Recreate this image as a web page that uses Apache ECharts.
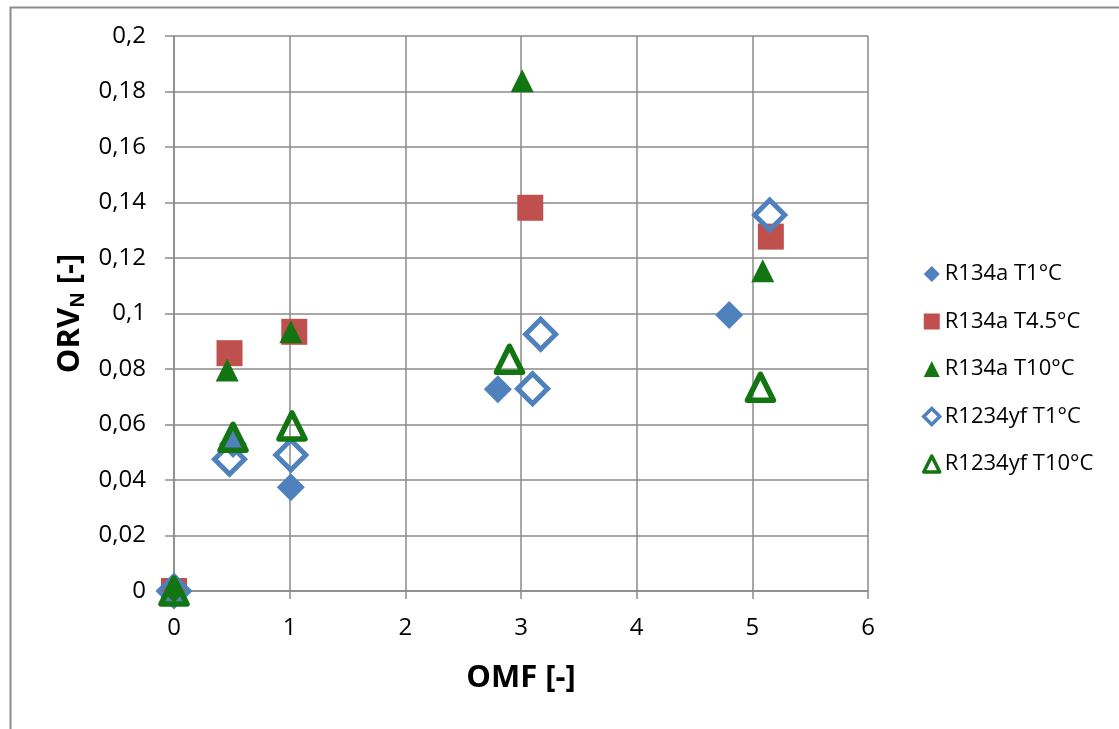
<!DOCTYPE html>
<html>
<head>
<meta charset="utf-8">
<title>ORVN vs OMF</title>
<script src="https://cdn.jsdelivr.net/npm/echarts@6/dist/echarts.min.js"></script>
<style>
  html, body { margin: 0; padding: 0; background: #ffffff; }
  #chart { width: 1119px; height: 729px; }
</style>
</head>
<body>
<div id="chart"></div>
<script>
// Measured points: [OMF, ORV_N]
const r134aT1 = [[0, 0], [0.51, 0.053], [1.01, 0.0374], [2.80, 0.0727], [4.80, 0.0995]];
const r134aT45 = [[0, 0], [0.48, 0.0857], [1.04, 0.0934], [3.08, 0.1381], [5.16, 0.1277]];
const r134aT10 = [[0, 0], [0.46, 0.0796], [1.01, 0.0934], [3.01, 0.1839], [5.09, 0.1154]];
const r1234yfT1 = [[0, 0], [0.48, 0.0475], [1.01, 0.049], [3.10, 0.0729], [3.17, 0.0925], [5.15, 0.1355]];
const r1234yfT10 = [[0, 0], [0.51, 0.0554], [1.02, 0.0595], [2.90, 0.0835], [5.07, 0.0734]];

const seriesNames = ['R134a T1°C', 'R134a T4.5°C', 'R134a T10°C', 'R1234yf T1°C', 'R1234yf T10°C'];

const BLUE = '#4f81bd';
const RED = '#c0504d';
const GREEN = '#127512';
const GRID = '#8a8a8a';
const FONT = '"Open Sans", "Liberation Sans", sans-serif';

const chart = echarts.init(document.getElementById('chart'), null, { renderer: 'canvas' });

chart.setOption({
  animation: false,
  backgroundColor: '#ffffff',
  textStyle: { fontFamily: FONT, color: '#000' },
  graphic: [{
    type: 'rect',
    left: 8, top: 5,
    shape: { x: 0, y: 0, width: 1200, height: 800 },
    style: { fill: 'none', stroke: '#8c8c8c', lineWidth: 2 },
    silent: true, z: -1
  }],
  grid: { left: 174, right: 251, top: 36, bottom: 138 },
  legend: {
    orient: 'vertical',
    left: 917, top: 257,
    itemWidth: 16, itemHeight: 16,
    itemGap: 23.5,
    textStyle: { fontSize: 22, lineHeight: 24, color: '#000', fontFamily: FONT },
    data: [
      { name: seriesNames[0] },
      { name: seriesNames[1] },
      { name: seriesNames[2] },
      { name: seriesNames[3], itemStyle: { borderWidth: 3.5 } },
      { name: seriesNames[4], itemStyle: { borderWidth: 3.5 } }
    ]
  },
  xAxis: {
    type: 'value', min: 0, max: 6, interval: 1,
    name: 'OMF [-]', nameLocation: 'middle', nameGap: 72,
    nameTextStyle: { fontSize: 31, fontWeight: 'bold', color: '#000', fontFamily: FONT },
    axisLine: { onZero: false, lineStyle: { color: GRID, width: 1.5 } },
    axisTick: { show: true, length: 8, lineStyle: { color: GRID, width: 1.5 } },
    axisLabel: { fontSize: 24, color: '#000', margin: 25, fontFamily: FONT },
    splitLine: { show: true, lineStyle: { color: GRID, width: 1.5 } }
  },
  yAxis: {
    type: 'value', min: 0, max: 0.2, interval: 0.02,
    name: '{a|ORV}{s|N}{a| [-]}', nameLocation: 'middle', nameGap: 86, nameRotate: 90,
    nameTextStyle: {
      rich: {
        a: { fontSize: 31, fontWeight: 'bold', color: '#000', fontFamily: FONT, lineHeight: 36 },
        s: { fontSize: 19, fontWeight: 'bold', color: '#000', fontFamily: FONT, verticalAlign: 'bottom', lineHeight: 22 }
      }
    },
    axisLine: { show: true, lineStyle: { color: GRID, width: 1.5 } },
    axisTick: { show: true, length: 9, lineStyle: { color: GRID, width: 1.5 } },
    axisLabel: {
      fontSize: 24, color: '#000', margin: 28, fontFamily: FONT,
      formatter: v => String(+v.toFixed(2)).replace('.', ',')
    },
    splitLine: { show: true, lineStyle: { color: GRID, width: 1.5 } }
  },
  series: [
    { name: seriesNames[0], type: 'scatter', data: r134aT1, symbol: 'diamond', symbolSize: 28,
      itemStyle: { color: BLUE, opacity: 1 } },
    { name: seriesNames[1], type: 'scatter', data: r134aT45, symbol: 'rect', symbolSize: 26,
      itemStyle: { color: RED, opacity: 1 } },
    { name: seriesNames[2], type: 'scatter', data: r134aT10, symbol: 'triangle', symbolSize: 23,
      itemStyle: { color: GREEN, opacity: 1 } },
    { name: seriesNames[3], type: 'scatter', data: r1234yfT1, symbol: 'diamond', symbolSize: 30,
      itemStyle: { color: 'rgba(255,255,255,0)', borderColor: BLUE, borderWidth: 5, opacity: 1 } },
    { name: seriesNames[4], type: 'scatter', data: r1234yfT10, symbol: 'triangle', symbolSize: 26,
      itemStyle: { color: 'rgba(255,255,255,0)', borderColor: GREEN, borderWidth: 5.5, borderJoin: 'round', opacity: 1 } }
  ]
});
</script>
</body>
</html>
